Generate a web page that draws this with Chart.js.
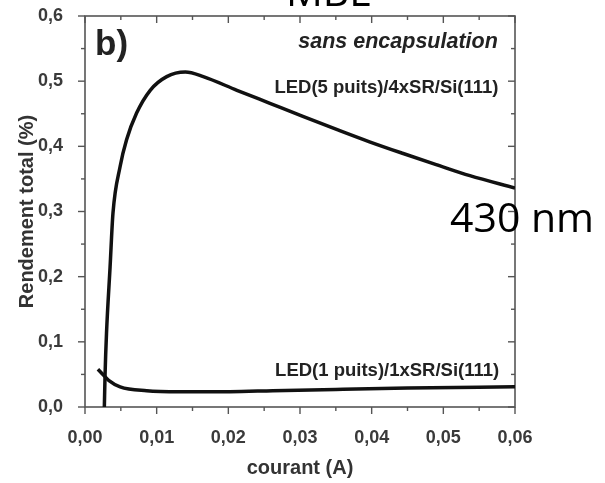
<!DOCTYPE html>
<html>
<head>
<meta charset="utf-8">
<script src="https://cdn.jsdelivr.net/npm/chart.js@4/dist/chart.umd.min.js"></script>
<style>
  html, body { margin: 0; padding: 0; background: #fff; }
</style>
</head>
<body>
<canvas id="rendementChart" width="605" height="483"></canvas>
<script>
// LED(5 puits)/4xSR/Si(111)
const courant5 = [0.0027, 0.0028, 0.0030, 0.0035, 0.0039, 0.0049, 0.0058, 0.0072, 0.0091, 0.0114, 0.0140, 0.0165, 0.0212, 0.0258, 0.0304, 0.0351, 0.0397, 0.0444, 0.0490, 0.0537, 0.0600];
const rendement5 = [0.0, 0.05, 0.113, 0.215, 0.297, 0.369, 0.41, 0.451, 0.486, 0.507, 0.514, 0.507, 0.486, 0.466, 0.446, 0.426, 0.407, 0.389, 0.372, 0.355, 0.336];

// LED(1 puits)/1xSR/Si(111)
const courant1 = [0.0018, 0.0025, 0.0033, 0.0049, 0.0086, 0.0132, 0.0202, 0.0262, 0.0350, 0.0450, 0.0600];
const rendement1 = [0.058, 0.050, 0.041, 0.031, 0.025, 0.0235, 0.0235, 0.025, 0.027, 0.029, 0.031];

const xTicks = [0, 0.01, 0.02, 0.03, 0.04, 0.05, 0.06];
const yTicks = [0, 0.1, 0.2, 0.3, 0.4, 0.5, 0.6];

const toPoints = (xs, ys) => xs.map((v, i) => ({ x: v, y: ys[i] }));
const comma = (v, d) => v.toFixed(d).replace('.', ',');

// frame box plus ticks: outward on left/bottom, inward on top/right
const frameTicks = {
  id: 'frameTicks',
  beforeDatasetsDraw(chart) {
    const { ctx, chartArea: a, scales: { x, y } } = chart;
    ctx.save();
    ctx.strokeStyle = '#555';
    ctx.lineWidth = 1.6;
    ctx.strokeRect(a.left, a.top, a.right - a.left, a.bottom - a.top);
    ctx.lineWidth = 1.4;
    const seg = (x1, y1, x2, y2) => { ctx.beginPath(); ctx.moveTo(x1, y1); ctx.lineTo(x2, y2); ctx.stroke(); };
    for (let i = 0; i <= 12; i++) {
      const px = x.getPixelForValue(i * 0.005);
      const len = i % 2 ? 4 : 7;
      seg(px, a.bottom, px, a.bottom + len);
      seg(px, a.top, px, a.top + len);
    }
    for (let i = 0; i <= 12; i++) {
      const py = y.getPixelForValue(i * 0.05);
      const len = i % 2 ? 4 : 7;
      seg(a.left, py, a.left - len, py);
      seg(a.right, py, a.right - len, py);
    }
    ctx.restore();
  },
  afterDraw(chart) {
    const { ctx, scales: { x, y } } = chart;
    ctx.save();
    ctx.fillStyle = '#222';
    ctx.textBaseline = 'alphabetic';

    ctx.font = 'bold 35px "Liberation Sans", Arial, sans-serif';
    ctx.textAlign = 'left';
    ctx.fillText('b)', x.getPixelForValue(0.0014), 55);

    ctx.textAlign = 'right';
    ctx.font = 'italic bold 21.5px "Liberation Sans", Arial, sans-serif';
    ctx.fillText('sans encapsulation', x.getPixelForValue(0.0576), 48);

    ctx.font = 'bold 18.5px "Liberation Sans", Arial, sans-serif';
    ctx.fillText('LED(5 puits)/4xSR/Si(111)', x.getPixelForValue(0.0577), y.getPixelForValue(0.482));
    ctx.fillText('LED(1 puits)/1xSR/Si(111)', x.getPixelForValue(0.0578), y.getPixelForValue(0.047));

    ctx.fillStyle = '#000';
    ctx.font = '41px "Open Sans", sans-serif';
    ctx.textAlign = 'center';
    ctx.fillText('MBE', 329, 6);
    ctx.textAlign = 'left';
    ctx.fillText('430 nm', 450, 232);
    ctx.restore();
  }
};

const ctx = document.getElementById('rendementChart').getContext('2d');
const rendementChart = new Chart(ctx, {
  type: 'scatter',
  data: {
    datasets: [
      {
        label: 'LED(5 puits)/4xSR/Si(111)',
        data: toPoints(courant5, rendement5),
        showLine: true,
        borderColor: '#111',
        borderWidth: 3.5,
        pointRadius: 0,
        cubicInterpolationMode: 'monotone',
      },
      {
        label: 'LED(1 puits)/1xSR/Si(111)',
        data: toPoints(courant1, rendement1),
        showLine: true,
        borderColor: '#111',
        borderWidth: 3.5,
        pointRadius: 0,
        cubicInterpolationMode: 'monotone',
      },
    ],
  },
  options: {
    responsive: false,
    animation: false,
    devicePixelRatio: 1,
    layout: { padding: { top: 0, right: 90, left: 0, bottom: 0 } },
    plugins: { legend: { display: false }, tooltip: { enabled: false } },
    scales: {
      x: {
        type: 'linear',
        min: 0,
        max: 0.06,
        afterFit: (s) => { s.height = 76; },
        afterBuildTicks: (s) => { s.ticks = xTicks.map((v) => ({ value: v })); },
        grid: { display: false, drawTicks: false },
        border: { display: false },
        ticks: {
          padding: 20,
          color: '#3a3a3a',
          font: { family: '"Liberation Sans", Arial, sans-serif', size: 18, weight: 'bold' },
          callback: (v) => comma(v, 2),
        },
        title: {
          display: true,
          text: 'courant (A)',
          color: '#333',
          padding: { top: 0, bottom: 3 },
          font: { family: '"Liberation Sans", Arial, sans-serif', size: 20, weight: 'bold' },
        },
      },
      y: {
        type: 'linear',
        min: 0,
        max: 0.6,
        afterFit: (s) => { s.width = 85; s.paddingTop = 16; },
        afterBuildTicks: (s) => { s.ticks = yTicks.map((v) => ({ value: v })); },
        grid: { display: false, drawTicks: false },
        border: { display: false },
        ticks: {
          padding: 22,
          color: '#3a3a3a',
          font: { family: '"Liberation Sans", Arial, sans-serif', size: 18, weight: 'bold' },
          callback: (v) => comma(v, 1),
        },
        title: {
          display: true,
          text: 'Rendement total (%)',
          color: '#333',
          padding: { top: 15, bottom: 0 },
          font: { family: '"Liberation Sans", Arial, sans-serif', size: 20, weight: 'bold' },
        },
      },
    },
  },
  plugins: [frameTicks],
});
</script>
</body>
</html>
